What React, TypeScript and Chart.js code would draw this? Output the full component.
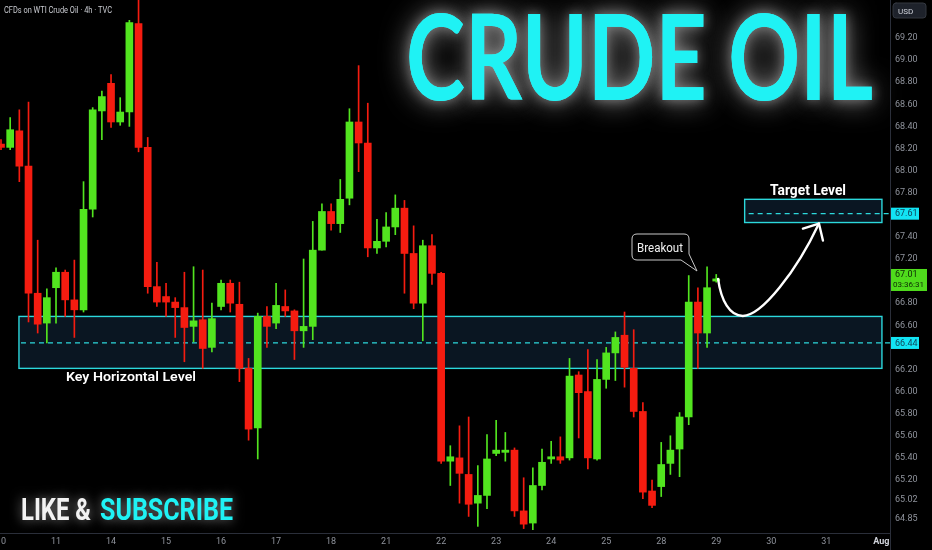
import React, { useEffect, useRef } from 'react';
import { Chart, registerables } from 'chart.js';

Chart.register(...registerables);

// ---------- data ----------
const dayLabels = ['10', '11', '14', '15', '16', '17', '18', '21', '22', '23', '24', '25', '28', '29', '30', '31', 'Aug'];
const barsPerDay = 6;

const opens = [
  68.24, 68.21, 68.36, 68.04, 66.89, 66.62, 66.94, 67.08, 66.83, 66.74,
  67.65, 68.54, 68.79, 68.44, 68.53, 69.33, 68.21, 66.95, 66.86, 66.81,
  66.76, 66.59, 66.65, 66.40, 66.77, 66.98, 66.79, 66.21, 65.67, 66.68,
  66.62, 66.77, 66.73, 66.55, 66.59, 67.28, 67.63, 67.52, 67.75, 68.44,
  68.25, 67.30, 67.36, 67.49, 67.66, 67.25, 66.80, 67.32, 67.07, 65.37,
  65.40, 65.25, 64.99, 65.06, 65.44, 65.45, 65.47, 64.92, 64.81, 65.15,
  65.39, 65.41, 65.40, 66.15, 66.00, 65.39, 66.11, 66.35, 66.51, 66.21,
  65.82, 65.10, 65.14, 65.35, 65.48, 65.77, 66.81, 66.53, 67.00,
];
const highs = [
  68.28, 68.48, 68.55, 68.62, 67.37, 66.93, 67.12, 67.10, 67.19, 67.90,
  68.57, 68.72, 68.87, 68.66, 69.36, 69.60, 68.30, 67.17, 66.98, 66.85,
  67.08, 67.13, 67.10, 66.80, 67.01, 67.01, 66.99, 66.30, 66.71, 66.77,
  66.98, 66.92, 66.74, 67.20, 67.54, 67.70, 67.70, 67.92, 68.56, 68.95,
  68.61, 67.56, 67.62, 67.78, 67.73, 67.50, 67.37, 67.42, 67.08, 65.51,
  65.69, 65.77, 65.33, 65.61, 65.74, 65.63, 65.49, 65.22, 65.31, 65.48,
  65.55, 65.59, 66.30, 66.18, 66.38, 66.29, 66.40, 66.54, 66.72, 66.56,
  65.90, 65.20, 65.54, 65.60, 65.81, 67.05, 66.94, 67.13, 67.06,
];
const lows = [
  68.19, 68.19, 67.90, 66.63, 66.53, 66.44, 66.62, 66.68, 66.49, 66.72,
  67.58, 68.28, 68.39, 68.41, 68.40, 68.17, 66.89, 66.77, 66.68, 66.49,
  66.27, 66.45, 66.21, 66.36, 66.74, 66.72, 66.09, 65.56, 65.39, 66.40,
  66.57, 66.68, 66.29, 66.40, 66.47, 67.28, 67.46, 67.44, 67.69, 67.99,
  67.22, 67.25, 67.31, 67.42, 66.89, 66.75, 66.46, 66.97, 65.35, 65.15,
  64.99, 64.87, 64.78, 64.94, 65.42, 65.37, 64.87, 64.76, 64.75, 65.11,
  65.35, 65.35, 65.38, 65.58, 65.30, 65.38, 66.03, 66.10, 66.04, 65.77,
  65.03, 64.95, 65.05, 65.25, 65.23, 65.70, 66.21, 66.40, 66.99,
];
const closes = [
  68.21, 68.37, 68.04, 66.89, 66.61, 66.85, 67.08, 66.83, 66.74, 67.65,
  68.55, 68.67, 68.44, 68.53, 69.34, 68.21, 66.95, 66.81, 66.81, 66.76,
  66.58, 66.64, 66.39, 66.66, 66.98, 66.80, 66.21, 65.66, 66.68, 66.59,
  66.78, 66.73, 66.55, 66.59, 67.28, 67.63, 67.52, 67.74, 68.44, 68.25,
  67.30, 67.36, 67.49, 67.66, 67.25, 66.80, 67.32, 67.07, 65.37, 65.41,
  65.26, 64.98, 65.06, 65.39, 65.47, 65.47, 64.92, 64.80, 65.15, 65.36,
  65.41, 65.38, 66.14, 65.99, 65.40, 66.11, 66.35, 66.49, 66.22, 65.82,
  65.09, 64.97, 65.34, 65.47, 65.77, 66.81, 66.53, 66.94, 67.02,
];

const priceTicks = [69.2, 69.0, 68.8, 68.6, 68.4, 68.2, 68.0, 67.8, 67.4, 67.2, 66.8, 66.6, 66.2, 66.0, 65.8, 65.6, 65.4, 65.2, 65.02, 64.85];
const keyZone = [66.21, 66.68];
const keyLevel = 66.44;
const targetZone = [67.53, 67.74];
const targetLevel = 67.61;
const lastPrice = 67.01;
const countdown = '03:36:31';

// ---------- styles ----------
const GREEN = '#52e41f';
const RED = '#f51c10';
const ZONE_LINE = '#2cd8dc';
const ZONE_FILL = '#0a1622';
const LABEL_CYAN = '#12e4f4';
const AXIS_LINE = '#2a2e39';
const TICK_COLOR = '#8f939c';
const TITLE_CYAN = '#1ff2f4';

function fitText(ctx: CanvasRenderingContext2D, text: string, x: number, y: number, w: number) {
  const m = ctx.measureText(text).width || 1;
  ctx.save();
  ctx.translate(x, y);
  ctx.scale(w / m, 1);
  ctx.textAlign = 'left';
  ctx.fillText(text, 0, 0);
  ctx.restore();
}

const overlay = {
  id: 'overlay',
  beforeDatasetsDraw(chart: any) {
    const { ctx, chartArea, scales } = chart;
    const x = scales.x;
    const y = scales.y;
    ctx.save();
    // key zone
    const kx0 = x.getPixelForValue(1.96);
    const kx1 = x.getPixelForValue(96.07);
    const kt = y.getPixelForValue(keyZone[1]);
    const kb = y.getPixelForValue(keyZone[0]);
    ctx.fillStyle = ZONE_FILL;
    ctx.fillRect(kx0, kt, kx1 - kx0, kb - kt);
    ctx.strokeStyle = ZONE_LINE;
    ctx.lineWidth = 1.4;
    ctx.strokeRect(kx0, kt, kx1 - kx0, kb - kt);
    ctx.setLineDash([5, 4]);
    ctx.lineWidth = 1.3;
    const kl = y.getPixelForValue(keyLevel);
    ctx.beginPath();
    ctx.moveTo(kx0 + 2, kl);
    ctx.lineTo(chartArea.right, kl);
    ctx.stroke();
    ctx.setLineDash([]);

    // target zone
    const tx0 = x.getPixelForValue(81.1);
    const tx1 = x.getPixelForValue(96.07);
    const tt = y.getPixelForValue(targetZone[1]);
    const tb = y.getPixelForValue(targetZone[0]);
    ctx.fillStyle = ZONE_FILL;
    ctx.fillRect(tx0, tt, tx1 - tx0, tb - tt);
    ctx.lineWidth = 1.4;
    ctx.strokeRect(tx0, tt, tx1 - tx0, tb - tt);
    ctx.setLineDash([5, 4]);
    ctx.lineWidth = 1.3;
    const tl = y.getPixelForValue(targetLevel);
    ctx.beginPath();
    ctx.moveTo(tx0 + 4, tl);
    ctx.lineTo(chartArea.right, tl);
    ctx.stroke();
    ctx.restore();
  },
  afterDraw(chart: any) {
    const { ctx, chartArea, scales } = chart;
    const x = scales.x;
    const y = scales.y;
    ctx.save();
    ctx.textBaseline = 'alphabetic';

    // header
    ctx.fillStyle = '#c9cbd1';
    ctx.font = '9px Roboto';
    fitText(ctx, 'CFDs on WTI Crude Oil · 4h · TVC', 4, 13, 108);

    // CRUDE OIL glow title
    ctx.font = 'bold 118px Lato';
    ctx.fillStyle = TITLE_CYAN;
    ctx.shadowColor = 'rgba(210,210,210,0.75)';
    ctx.shadowBlur = 28;
    fitText(ctx, 'CRUDE OIL', 406, 100, 467);
    ctx.shadowBlur = 12;
    ctx.shadowColor = 'rgba(200,200,200,0.5)';
    fitText(ctx, 'CRUDE OIL', 406, 100, 467);
    ctx.shadowBlur = 0;
    ctx.shadowColor = 'transparent';

    // LIKE & SUBSCRIBE
    ctx.font = 'bold 31px Roboto';
    ctx.shadowColor = 'rgba(255,255,255,0.55)';
    ctx.shadowBlur = 12;
    ctx.fillStyle = '#f2f2f2';
    fitText(ctx, 'LIKE &', 21, 520, 70);
    ctx.fillStyle = TITLE_CYAN;
    fitText(ctx, 'SUBSCRIBE', 100, 520, 133);
    ctx.shadowBlur = 0;
    ctx.shadowColor = 'transparent';

    // labels
    ctx.fillStyle = '#ffffff';
    ctx.font = '600 13px Roboto';
    fitText(ctx, 'Key Horizontal Level', 66, 381, 130);
    ctx.font = 'bold 14px Roboto';
    fitText(ctx, 'Target Level', 770, 195, 76);

    // Breakout callout
    const bx0 = 632, by0 = 234, bx1 = 689, by1 = 260, r = 5;
    const tipX = 697, tipY = 271;
    ctx.beginPath();
    ctx.moveTo(bx0 + r, by0);
    ctx.lineTo(bx1 - r, by0);
    ctx.quadraticCurveTo(bx1, by0, bx1, by0 + r);
    ctx.lineTo(bx1, by1 - 6);
    ctx.lineTo(tipX, tipY);
    ctx.lineTo(bx1 - 8, by1);
    ctx.lineTo(bx0 + r, by1);
    ctx.quadraticCurveTo(bx0, by1, bx0, by1 - r);
    ctx.lineTo(bx0, by0 + r);
    ctx.quadraticCurveTo(bx0, by0, bx0 + r, by0);
    ctx.closePath();
    ctx.fillStyle = '#000000';
    ctx.fill();
    ctx.strokeStyle = '#c8c8c8';
    ctx.lineWidth = 1;
    ctx.stroke();
    ctx.fillStyle = '#f0f0f0';
    ctx.font = '12px Roboto';
    fitText(ctx, 'Breakout', 637, 251.5, 46);

    // white arrow from last candle, bouncing off key zone to target zone
    const sx = x.getPixelForValue(78.2);
    const sy = y.getPixelForValue(closes[closes.length - 1]);
    const mx = x.getPixelForValue(80.9);
    const my = y.getPixelForValue(keyZone[1]) - 0.5;
    const ex = x.getPixelForValue(89.2);
    const ey = y.getPixelForValue(targetZone[0]) + 1;
    ctx.strokeStyle = '#ffffff';
    ctx.lineWidth = 2.4;
    ctx.lineCap = 'round';
    ctx.lineJoin = 'round';
    ctx.beginPath();
    ctx.moveTo(sx, sy);
    ctx.bezierCurveTo(sx + 3, sy + 22, mx - 13, my, mx, my);
    ctx.bezierCurveTo(mx + 19, my, ex - 22, ey + 47, ex, ey);
    ctx.stroke();
    ctx.beginPath();
    ctx.moveTo(ex - 16, ey + 5);
    ctx.lineTo(ex, ey);
    ctx.lineTo(ex + 4, ey + 17);
    ctx.stroke();

    // right axis decorations
    const axL = chartArea.right;
    ctx.fillStyle = '#1e222b';
    ctx.beginPath();
    (ctx as any).roundRect(axL + 3, 3, 33, 15, 3);
    ctx.fill();
    ctx.strokeStyle = '#33373f';
    ctx.lineWidth = 1;
    ctx.stroke();
    ctx.fillStyle = '#d1d4dc';
    ctx.font = '8px Roboto';
    ctx.fillText('USD', axL + 8, 13.5);

    ctx.textBaseline = 'middle';
    const priceBox = (val: number, bg: string, fg: string, w: number) => {
      const py = y.getPixelForValue(val);
      ctx.fillStyle = bg;
      ctx.fillRect(axL + 1, py - 6, w, 12);
      ctx.fillStyle = fg;
      ctx.font = '9px Roboto';
      ctx.fillText(val.toFixed(2), axL + 5, py + 0.5);
    };
    priceBox(targetLevel, LABEL_CYAN, '#0f3f55', 28);
    priceBox(keyLevel, LABEL_CYAN, '#0f3f55', 28);

    const lp = y.getPixelForValue(lastPrice);
    ctx.fillStyle = '#4fdc1c';
    ctx.fillRect(axL + 1, lp - 11, 36, 22);
    ctx.fillStyle = '#0e2a06';
    ctx.font = '9px Roboto';
    ctx.fillText(lastPrice.toFixed(2), axL + 5, lp - 5);
    ctx.font = '8px Roboto';
    fitText(ctx, countdown, axL + 3, lp + 5.5, 31);

    // separator in the bottom strip
    ctx.strokeStyle = AXIS_LINE;
    ctx.beginPath();
    ctx.moveTo(axL + 0.5, chartArea.bottom);
    ctx.lineTo(axL + 0.5, chart.height);
    ctx.stroke();
    ctx.restore();
  },
};

export default function App() {
  const ref = useRef<HTMLCanvasElement>(null);
  useEffect(() => {
    document.body.style.margin = '0';
    document.body.style.background = '#000';
    const canvas = ref.current;
    if (!canvas) return;
    const idx = opens.map((_, i) => i);
    const colors = idx.map((i) => (closes[i] >= opens[i] ? GREEN : RED));
    const chart = new Chart(canvas, {
      type: 'bar',
      data: {
        datasets: [
          {
            label: 'body',
            data: idx.map((i) => ({ x: i, y: [opens[i], closes[i]] })) as any,
            backgroundColor: colors,
            barThickness: 7,
            grouped: false,
            order: 0,
          } as any,
          {
            label: 'wick',
            data: idx.map((i) => ({ x: i, y: [lows[i], highs[i]] })) as any,
            backgroundColor: colors,
            barThickness: 1,
            grouped: false,
            order: 1,
          } as any,
        ],
      },
      options: {
        responsive: false,
        maintainAspectRatio: false,
        animation: false,
        layout: { padding: 0 },
        plugins: {
          legend: { display: false },
          tooltip: { enabled: false },
        },
        scales: {
          x: {
            type: 'linear',
            min: -0.109,
            max: 96.95,
            offset: false,
            grid: { display: false, drawTicks: false, offset: false },
            border: { display: true, color: AXIS_LINE },
            ticks: {
              autoSkip: false,
              maxRotation: 0,
              padding: 3,
              color: (c: any) => (c.tick && c.tick.value === 96 ? '#d1d4dc' : TICK_COLOR),
              font: (c: any) => (c.tick && c.tick.value === 96 ? { size: 9, family: 'Roboto', weight: 'bold' } : { size: 9, family: 'Roboto' }),
              callback: (v: any) => dayLabels[Math.round(Number(v) / barsPerDay)] ?? '',
            },
            afterBuildTicks: (s: any) => {
              s.ticks = dayLabels.map((_, d) => ({ value: d * barsPerDay }));
            },
            afterFit: (s: any) => {
              s.height = 17;
              s.paddingLeft = 0;
              s.paddingRight = 0;
            },
          } as any,
          y: {
            position: 'right',
            min: 64.72,
            max: 69.544,
            grid: { display: false, drawTicks: false },
            border: { display: true, color: AXIS_LINE },
            ticks: {
              autoSkip: false,
              padding: 5,
              color: TICK_COLOR,
              font: { size: 9, family: 'Roboto' },
              callback: (v: any) => Number(v).toFixed(2),
            },
            afterBuildTicks: (s: any) => {
              s.ticks = priceTicks.map((v) => ({ value: v }));
            },
            afterFit: (s: any) => {
              s.width = 42;
              s.paddingTop = 0;
              s.paddingBottom = 0;
            },
          } as any,
        },
      },
      plugins: [overlay as any],
    });
    return () => chart.destroy();
  }, []);
  return (
    <div style={{ position: 'fixed', left: 0, top: 0, width: 932, height: 550, background: '#000' }}>
      <canvas ref={ref} width={932} height={550} style={{ display: 'block', width: 932, height: 550 }} />
    </div>
  );
}
